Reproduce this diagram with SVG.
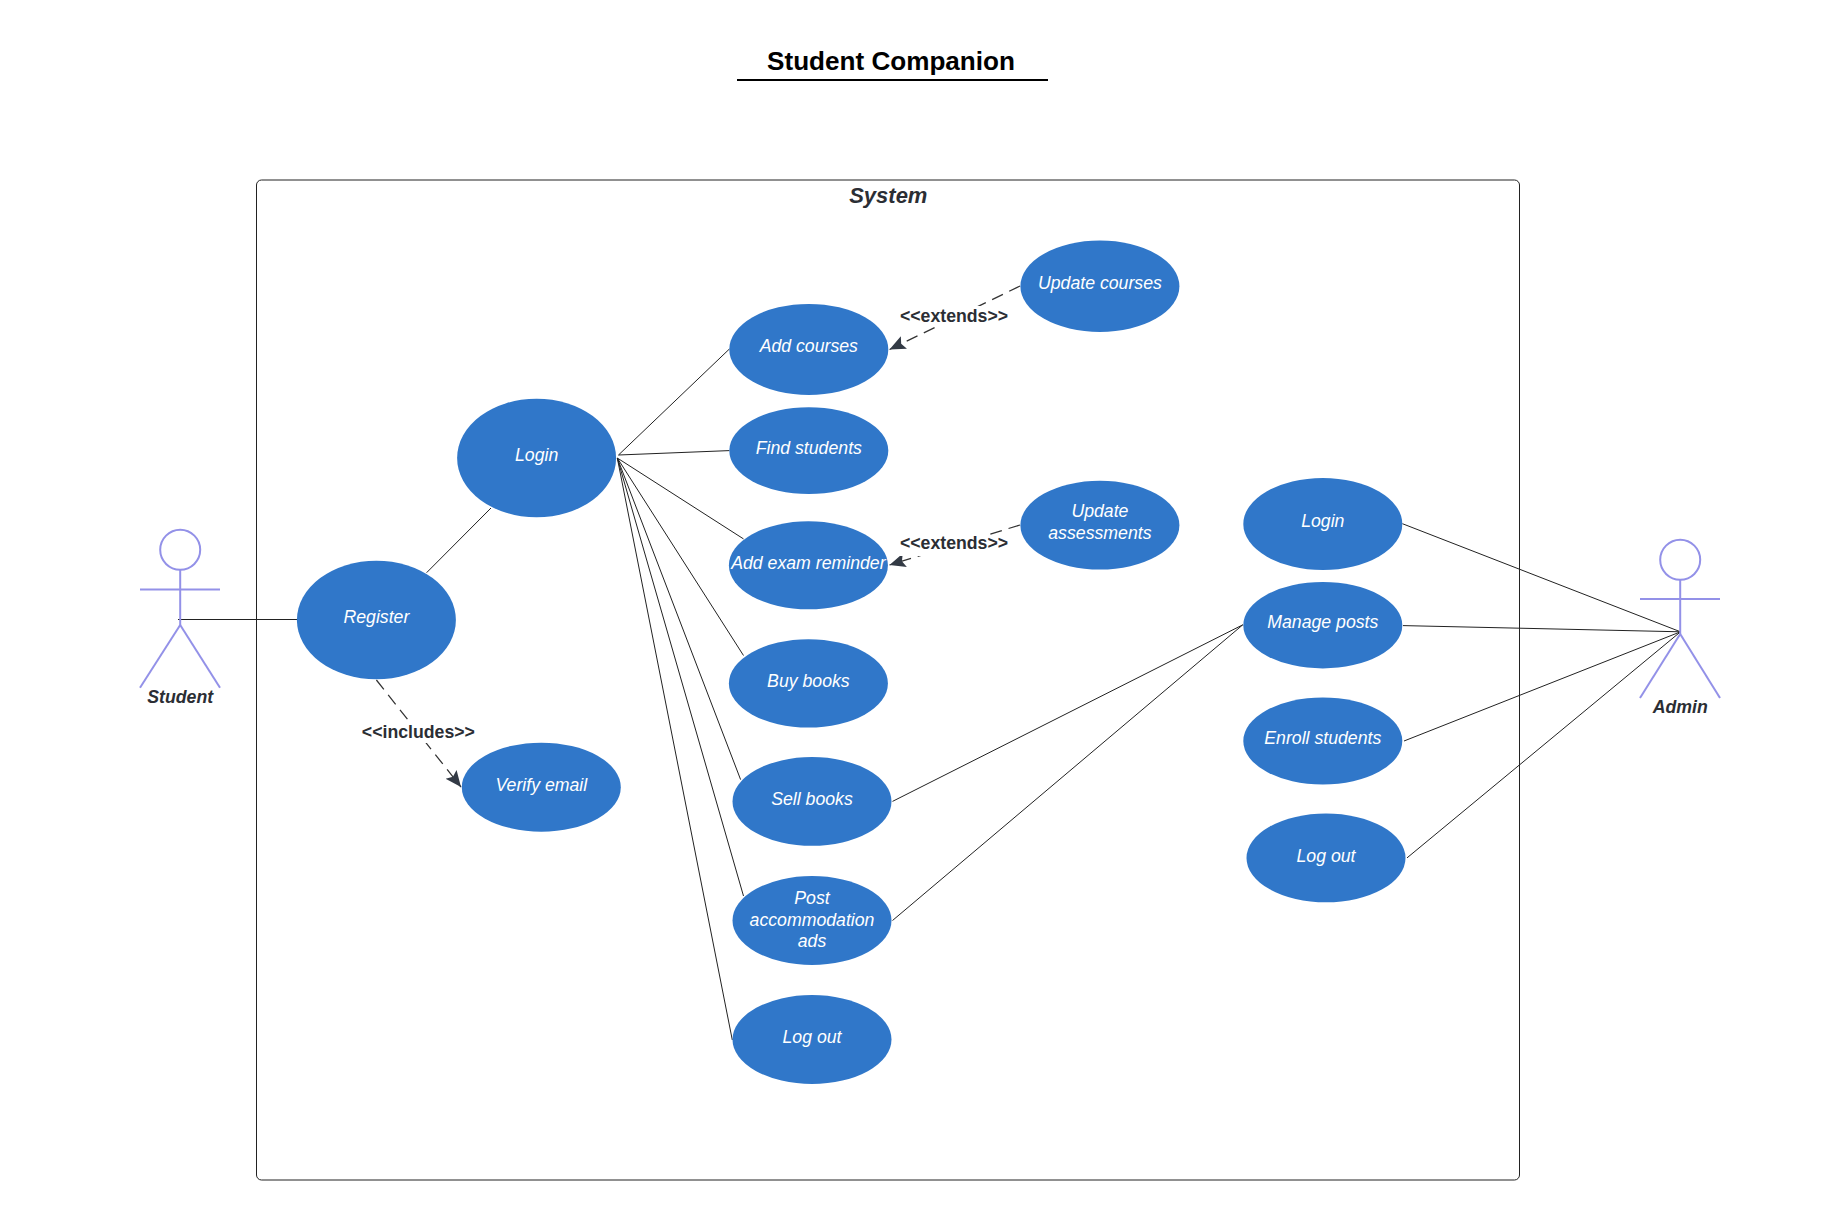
<svg xmlns="http://www.w3.org/2000/svg" width="1840" height="1220" viewBox="0 0 1840 1220">
<style>
.uc{fill:#3077c9}
.t{font-family:"Liberation Sans",Arial,sans-serif;font-size:17.7px;font-style:italic;fill:#fff;text-anchor:middle}
.b{font-family:"Liberation Sans",Arial,sans-serif;font-size:17.7px;font-weight:bold;fill:#2b2e34;text-anchor:middle}
.a{font-style:italic}
.c line{stroke:#222;stroke-width:1;fill:none}
.c line.d{stroke:#333;stroke-width:1.25;stroke-dasharray:12 7;marker-end:url(#ah)}
.actor *{stroke:#9391e8;stroke-width:2;fill:none}
</style>
<defs>
<marker id="ah" markerUnits="userSpaceOnUse" markerWidth="18" markerHeight="16" refX="16" refY="8" orient="auto">
<path d="M0 1L16 8L0 15L3 8Z" fill="#333a45"/>
</marker>
</defs>
<rect width="1840" height="1220" fill="#fff"/>
<g id="title">
<text x="891" y="70" font-family="Liberation Sans,Arial,sans-serif" font-size="26.1" font-weight="bold" text-anchor="middle" fill="#000">Student Companion</text>
<line x1="737" y1="80" x2="1048" y2="80" stroke="#000" stroke-width="2"/>
</g>
<g id="system">
<rect x="256.5" y="180" width="1263" height="1000" rx="5" fill="none" stroke="#222" stroke-width="1"/>
<text class="b a" x="888.3" y="203" style="font-size:22px">System</text>
</g>
<g id="connectors" class="c">
<line x1="178" y1="619.5" x2="297" y2="619.5"/>
<line x1="426.6" y1="572.7" x2="491" y2="508"/>
<line x1="618.5" y1="455" x2="729.4" y2="349"/>
<line x1="618.5" y1="455" x2="729.4" y2="450.6"/>
<line x1="617.3" y1="458" x2="743.5" y2="538.9"/>
<line x1="617.3" y1="458" x2="743.5" y2="655.5"/>
<line x1="617.3" y1="458" x2="740.6" y2="779.6"/>
<line x1="617.3" y1="458" x2="743.5" y2="896"/>
<line x1="617.3" y1="458" x2="732.3" y2="1040"/>
<line x1="892.5" y1="801.4" x2="1242.8" y2="624.8"/>
<line x1="892.5" y1="920.5" x2="1242.8" y2="624.8"/>
<line x1="1402.4" y1="523.7" x2="1680.5" y2="631.8"/>
<line x1="1403" y1="625.6" x2="1680.5" y2="631.8"/>
<line x1="1404" y1="741" x2="1680.5" y2="631.8"/>
<line x1="1407" y1="857.9" x2="1680.5" y2="631.8"/>
<line class="d" x1="1020" y1="286" x2="889.5" y2="349.5"/>
<line class="d" x1="1020" y1="525" x2="889.5" y2="565"/>
<line class="d" x1="376.4" y1="680" x2="461" y2="787"/>
</g>
<g id="label-extends-1">
<rect x="898" y="306" width="112" height="21" fill="#fff"/>
<text class="b" x="954" y="322">&lt;&lt;extends&gt;&gt;</text>
</g>
<g id="label-extends-2">
<rect x="898" y="535" width="112" height="21" fill="#fff"/>
<text class="b" x="954" y="549">&lt;&lt;extends&gt;&gt;</text>
</g>
<g id="label-includes">
<rect x="360" y="721" width="116" height="22" fill="#fff"/>
<text class="b" x="418.4" y="737.5">&lt;&lt;includes&gt;&gt;</text>
</g>
<g id="student">
<g class="actor">
<circle cx="180.2" cy="549.8" r="20"/>
<line x1="180.2" y1="569.8" x2="180.2" y2="625"/>
<line x1="140" y1="589.4" x2="220" y2="589.4"/>
<line x1="180.2" y1="625" x2="140" y2="687.8"/>
<line x1="180.2" y1="625" x2="220" y2="687.8"/>
</g>
<text class="b a" x="180.2" y="702.6">Student</text>
</g>
<g id="admin">
<g class="actor">
<circle cx="1680.2" cy="559.8" r="20"/>
<line x1="1680.2" y1="579.8" x2="1680.2" y2="634"/>
<line x1="1640" y1="599" x2="1720" y2="599"/>
<line x1="1680.2" y1="634" x2="1640" y2="698"/>
<line x1="1680.2" y1="634" x2="1720" y2="698"/>
</g>
<text class="b a" x="1680.2" y="713">Admin</text>
</g>
<g id="register"><ellipse class="uc" cx="376.4" cy="620" rx="79.5" ry="59.3"/><text class="t" x="376.4" y="623">Register</text></g>
<g id="login"><ellipse class="uc" cx="536.6" cy="458" rx="79.5" ry="59.3"/><text class="t" x="536.6" y="461">Login</text></g>
<g id="verify-email"><ellipse class="uc" cx="541.3" cy="787.2" rx="79.5" ry="44.5"/><text class="t" x="541.3" y="790.5">Verify email</text></g>
<g id="add-courses"><ellipse class="uc" cx="808.8" cy="349.4" rx="79.5" ry="45.5"/><text class="t" x="808.8" y="352">Add courses</text></g>
<g id="find-students"><ellipse class="uc" cx="808.8" cy="450.7" rx="79.5" ry="43.4"/><text class="t" x="808.8" y="454">Find students</text></g>
<g id="add-exam-reminder"><ellipse class="uc" cx="808.4" cy="565.3" rx="79.5" ry="44"/><text class="t" x="808.4" y="569">Add exam reminder</text></g>
<g id="buy-books"><ellipse class="uc" cx="808.4" cy="683.4" rx="79.5" ry="44.2"/><text class="t" x="808.4" y="687">Buy books</text></g>
<g id="sell-books"><ellipse class="uc" cx="812" cy="801.4" rx="79.5" ry="44.4"/><text class="t" x="812" y="805">Sell books</text></g>
<g id="post-ads"><ellipse class="uc" cx="812" cy="920.5" rx="79.5" ry="44.4"/><text class="t" x="812" y="904">Post</text><text class="t" x="812" y="925.5">accommodation</text><text class="t" x="812" y="946.5">ads</text></g>
<g id="logout-student"><ellipse class="uc" cx="812" cy="1039.5" rx="79.5" ry="44.4"/><text class="t" x="812" y="1043.2">Log out</text></g>
<g id="update-courses"><ellipse class="uc" cx="1099.9" cy="286.2" rx="79.5" ry="45.7"/><text class="t" x="1099.9" y="289">Update courses</text></g>
<g id="update-assessments"><ellipse class="uc" cx="1099.9" cy="525.2" rx="79.5" ry="44.4"/><text class="t" x="1099.9" y="517">Update</text><text class="t" x="1099.9" y="538.5">assessments</text></g>
<g id="login-admin"><ellipse class="uc" cx="1322.8" cy="524" rx="79.5" ry="46"/><text class="t" x="1322.8" y="527">Login</text></g>
<g id="manage-posts"><ellipse class="uc" cx="1322.8" cy="625.2" rx="79.5" ry="43.2"/><text class="t" x="1322.8" y="628">Manage posts</text></g>
<g id="enroll-students"><ellipse class="uc" cx="1322.8" cy="741" rx="79.5" ry="43.6"/><text class="t" x="1322.8" y="744.3">Enroll students</text></g>
<g id="logout-admin"><ellipse class="uc" cx="1326" cy="857.9" rx="79.5" ry="44.4"/><text class="t" x="1326" y="861.5">Log out</text></g>
</svg>
